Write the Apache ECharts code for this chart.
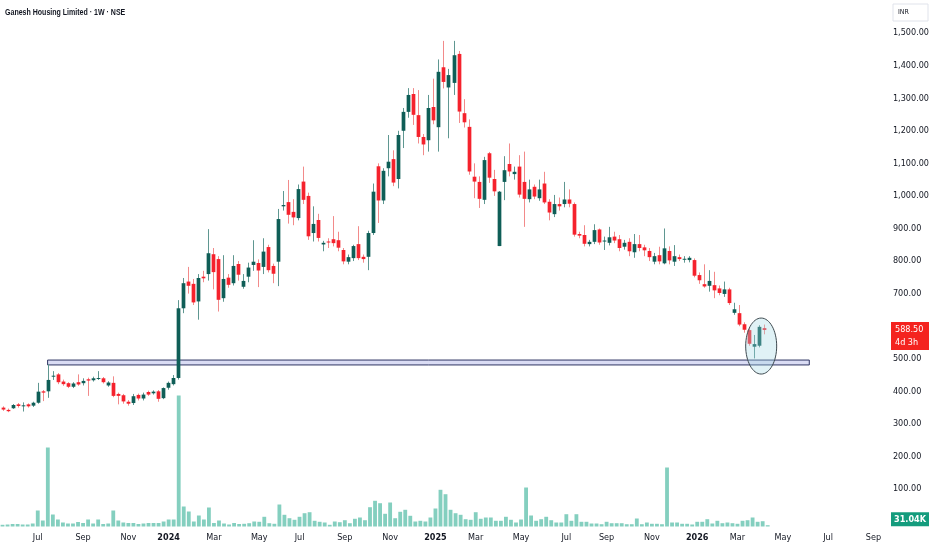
<!DOCTYPE html>
<html><head><meta charset="utf-8">
<script src="https://cdn.jsdelivr.net/npm/echarts/dist/echarts.min.js"></script>
<style>html,body{margin:0;padding:0;background:#fff}#c{width:932px;height:550px}</style>
</head><body><div id="c"></div><script>
const titleText = 'Ganesh Housing Limited · 1W · NSE';
const dates = ['2023-05-15','2023-05-22','2023-05-29','2023-06-05','2023-06-12','2023-06-19','2023-06-26','2023-07-03','2023-07-10','2023-07-17','2023-07-24','2023-07-31','2023-08-07','2023-08-14','2023-08-21','2023-08-28','2023-09-04','2023-09-11','2023-09-18','2023-09-25','2023-10-02','2023-10-09','2023-10-16','2023-10-23','2023-10-30','2023-11-06','2023-11-13','2023-11-20','2023-11-27','2023-12-04','2023-12-11','2023-12-18','2023-12-25',
'2024-01-01','2024-01-08','2024-01-15','2024-01-22','2024-01-29','2024-02-05','2024-02-12','2024-02-19','2024-02-26','2024-03-04','2024-03-11','2024-03-18','2024-03-25','2024-04-01','2024-04-08','2024-04-15','2024-04-22','2024-04-29','2024-05-06','2024-05-13','2024-05-20','2024-05-27','2024-06-03','2024-06-10','2024-06-17','2024-06-24','2024-07-01','2024-07-08','2024-07-15','2024-07-22','2024-07-29','2024-08-05','2024-08-12','2024-08-19','2024-08-26','2024-09-02','2024-09-09','2024-09-16','2024-09-23','2024-09-30','2024-10-07','2024-10-14','2024-10-21','2024-10-28','2024-11-04','2024-11-11','2024-11-18','2024-11-25','2024-12-02','2024-12-09','2024-12-16','2024-12-23','2024-12-30',
'2025-01-06','2025-01-13','2025-01-20','2025-01-27','2025-02-03','2025-02-10','2025-02-17','2025-02-24','2025-03-03','2025-03-10','2025-03-17','2025-03-24','2025-03-31','2025-04-07','2025-04-14','2025-04-21','2025-04-28','2025-05-05','2025-05-12','2025-05-19','2025-05-26','2025-06-02','2025-06-09','2025-06-16','2025-06-23','2025-06-30','2025-07-07','2025-07-14','2025-07-21','2025-07-28','2025-08-04','2025-08-11','2025-08-18','2025-08-25','2025-09-01','2025-09-08','2025-09-15','2025-09-22','2025-09-29','2025-10-06','2025-10-13','2025-10-20','2025-10-27','2025-11-03','2025-11-10','2025-11-17','2025-11-24','2025-12-01','2025-12-08','2025-12-15','2025-12-22','2025-12-29',
'2026-01-05','2026-01-12','2026-01-19','2026-01-26','2026-02-02','2026-02-09','2026-02-16','2026-02-23','2026-03-02','2026-03-09','2026-03-16','2026-03-23','2026-03-30','2026-04-06','2026-04-13'];
const futureWeeks = ['2026-04-20','2026-04-27','2026-05-04','2026-05-11','2026-05-18','2026-05-25','2026-06-01','2026-06-08','2026-06-15','2026-06-22','2026-06-29','2026-07-06','2026-07-13','2026-07-20','2026-07-27','2026-08-03','2026-08-10','2026-08-17','2026-08-24','2026-08-31','2026-09-07','2026-09-14','2026-09-21'];
const openP = [350,343,348,360,355,360,356,365,400,400,445,452,430,425,414,428,425,437,434,439,440,418,426,392,388,368,364,389,378,398,394,400,379,411,422,441,655,737,730,676,752,760,821,806,686,749,732,791,721,752,788,794,782,843,785,798,968,981,951,932,1044,1000,886,926,851,860,867,864,834,798,809,852,813,813,886,1091,986,1085,1113,1052,1200,1258,1313,1248,1181,1171,1273,1211,1395,1333,1347,1436,1254,1212,1059,1043,988,1131,1052,846,1043,1098,1067,1090,1043,990,1028,993,1038,982,944,975,975,989,975,883,880,852,859,897,861,856,875,867,844,859,827,852,842,831,798,818,793,831,798,812,805,803,803,757,729,724,726,716,699,713,641,640,606,588,537,540,594];
const highP = [354,347,361,364,366,363,368,426,404,484,462,456,436,428,428,452,440,442,445,462,444,431,446,396,392,373,392,393,396,402,403,404,412,430,450,680,748,782,745,760,770,898,840,815,818,760,818,800,760,795,864,805,870,850,792,960,1015,1049,990,1035,1090,1010,968,945,862,870,938,890,840,820,850,907,820,893,1038,1100,1085,1187,1140,1200,1270,1331,1331,1325,1190,1310,1360,1419,1476,1390,1476,1445,1297,1235,1100,1060,1120,1135,1080,1015,1122,1161,1090,1125,1136,1050,1035,1050,1074,990,1003,995,1043,1020,980,890,910,865,913,900,875,905,890,880,865,870,883,880,850,840,825,844,900,845,849,820,815,815,808,765,790,772,767,725,737,718,672,665,612,595,573,603,605];
const lowP = [340,336,346,350,338,350,352,362,370,380,435,422,417,410,410,417,418,386,430,435,424,414,382,360,362,356,358,372,372,386,390,368,376,405,418,436,640,700,665,620,735,740,713,645,675,718,725,740,715,735,770,720,760,765,732,723,955,915,910,925,975,865,860,860,830,840,845,830,790,790,800,803,795,772,880,917,975,1060,1030,1023,1147,1240,1218,1161,1125,1136,1220,1136,1330,1177,1310,1224,1210,1065,993,963,975,1040,1000,846,987,1060,1050,995,905,980,990,985,975,925,935,955,965,965,875,870,845,845,852,850,834,848,855,830,835,815,810,830,815,800,790,790,790,790,785,800,795,796,750,730,718,706,686,695,690,665,635,600,580,540,501,535,575];
const closeP = [344,339,358,355,357,354,365,399,396,435,448,428,422,414,424,421,432,433,440,441,428,427,386,386,369,362,385,378,390,390,399,377,410,426,441,655,732,724,673,748,747,824,766,681,745,727,785,758,739,780,798,771,829,772,761,929,972,942,934,1021,988,876,914,871,856,857,855,841,799,812,846,809,806,886,1013,986,1077,1105,1041,1187,1258,1310,1249,1181,1158,1270,1232,1381,1350,1371,1432,1259,1226,1075,1044,991,1110,1056,1014,1013,1079,1075,1074,1004,991,1020,998,1020,980,949,975,968,989,976,881,878,853,859,895,857,863,873,863,840,856,830,852,840,833,812,815,799,839,802,815,806,807,810,755,741,722,739,710,702,713,671,652,605,589,546,545,598,588.5];
const volumeK = [41,48,60,60,48,48,72,384,144,1896,288,168,96,72,72,108,84,168,72,168,60,72,384,144,96,84,84,60,72,84,84,84,120,168,168,3144,480,360,120,264,168,456,84,144,72,48,84,60,65,79,120,113,233,79,65,528,281,199,161,233,319,343,137,113,96,41,120,103,151,79,185,216,151,463,617,559,305,576,199,353,401,257,120,137,120,216,432,881,775,401,319,281,175,161,343,185,216,216,137,137,233,161,96,168,936,264,137,175,233,151,96,96,295,137,295,113,113,72,72,55,113,79,79,79,55,55,192,55,96,65,65,55,1416,96,96,65,65,48,113,113,175,72,137,79,96,79,65,137,151,216,113,127,31.04];
const priceTickLabels = [100,200,300,400,500,700,800,900,1000,1100,1200,1300,1400,1500];
const monthAbbr = ['Jan','Feb','Mar','Apr','May','Jun','Jul','Aug','Sep','Oct','Nov','Dec'];
const lastPriceText = '588.50';
const countdownText = '4d 3h';
const lastVolumeText = '31.04K';
const supportLow = 481, supportHigh = 496;
const supportFrom = '2023-07-17', supportTo = '2026-06-15';
const focusDate = '2026-04-06', focusPrice = 539;

const allDates = dates.concat(futureWeeks);
const UP = '#0f5e57', DN = '#f5222d', WICK_UP = '#5f9791', WICK_DN = '#f28a8a';
const FONT = "'DejaVu Sans Condensed','Liberation Sans Narrow','Liberation Sans',sans-serif";
const TXT = '#131722';

const candleData = dates.map((d, i) => [d, openP[i], closeP[i], lowP[i], highP[i]]);

function renderCandle(params, api) {
  const i = api.value(0);
  const o = api.value(1), c = api.value(2), l = api.value(3), h = api.value(4);
  const up = c >= o;
  const pO = api.coord([i, o]), pC = api.coord([i, c]);
  const pH = api.coord([i, h]), pL = api.coord([i, l]);
  const bw = api.size([1, 0])[0] * 0.74;
  const xl = Math.round(pO[0]) + 0.5;
  const top = Math.min(pO[1], pC[1]);
  const hgt = Math.max(Math.abs(pO[1] - pC[1]), 1);
  return {type: 'group', children: [
    {type: 'line', shape: {x1: xl, y1: pH[1], x2: xl, y2: pL[1]}, style: {stroke: up ? WICK_UP : WICK_DN, lineWidth: 1}},
    {type: 'rect', shape: {x: xl - bw / 2, y: top, width: bw, height: hgt}, style: {fill: up ? UP : DN}}
  ]};
}

const chart = echarts.init(document.getElementById('c'), null, {renderer: 'canvas'});
chart.setOption({
  animation: false,
  backgroundColor: '#ffffff',
  grid: [
    {left: 0, right: 46, top: 0.5, bottom: 28.4},
    {left: 0, right: 46, top: 326.5, bottom: 23.5}
  ],
  xAxis: [
    {type: 'category', gridIndex: 0, data: allDates, boundaryGap: true, axisLine: {show: false}, axisTick: {show: false}, axisLabel: {show: false}, splitLine: {show: false}},
    {type: 'category', gridIndex: 1, data: allDates, boundaryGap: true, axisLine: {show: false}, axisTick: {show: false}, splitLine: {show: false},
      axisLabel: {
        margin: 7, fontSize: 9, color: TXT, fontFamily: FONT, hideOverlap: false,
        interval: function (idx, v) { const m = +v.slice(5, 7), d = +v.slice(8, 10); return d <= 7 && m % 2 === 1; },
        formatter: function (v) { const m = +v.slice(5, 7); return m === 1 ? '{y|' + v.slice(0, 4) + '}' : monthAbbr[m - 1]; },
        rich: {y: {fontWeight: 'bold', fontSize: 9, color: TXT, fontFamily: FONT}}
      }}
  ],
  yAxis: [
    {type: 'value', gridIndex: 0, position: 'right', min: 0, max: 1600, interval: 100,
      axisLine: {show: false}, axisTick: {show: false}, splitLine: {show: false},
      axisLabel: {margin: 11, fontSize: 9, color: TXT, fontFamily: FONT,
        formatter: function (v) { return priceTickLabels.indexOf(v) >= 0 ? v.toLocaleString('en-US', {minimumFractionDigits: 2, maximumFractionDigits: 2}) : ''; }}},
    {type: 'value', gridIndex: 1, min: 0, max: 4800, show: false}
  ],
  series: [
    {type: 'line', xAxisIndex: 0, yAxisIndex: 0, data: [], silent: true, z: 1,
      markArea: {silent: true, itemStyle: {color: '#dadcf4', borderColor: '#2f3563', borderWidth: 1},
        data: [[{xAxis: supportFrom, yAxis: supportHigh}, {xAxis: supportTo, yAxis: supportLow}]]}},
    {type: 'custom', name: 'price', xAxisIndex: 0, yAxisIndex: 0, data: candleData, renderItem: renderCandle,
      encode: {x: 0, y: [1, 2, 3, 4]}, z: 3},
    {type: 'bar', name: 'volume', xAxisIndex: 1, yAxisIndex: 1, data: volumeK, barWidth: '76%',
      itemStyle: {color: '#84cfbf'}, z: 2}
  ]
});

const lastIdx = dates.length - 1;
const pPrice = chart.convertToPixel({xAxisIndex: 0, yAxisIndex: 0}, [lastIdx, closeP[lastIdx]]);
const pVol = chart.convertToPixel({xAxisIndex: 1, yAxisIndex: 1}, [lastIdx, volumeK[lastIdx]]);
const pFocus = chart.convertToPixel({xAxisIndex: 0, yAxisIndex: 0}, [dates.indexOf(focusDate), focusPrice]);
const axisX = 891;
chart.setOption({
  graphic: [
    {type: 'text', z: 60, x: 5, y: 12, scaleX: 0.74, style: {text: titleText, fill: TXT, fontSize: 9.5, fontWeight: 'bold', fontFamily: "'Liberation Sans',sans-serif", verticalAlign: 'middle'}},
    {type: 'ellipse', z: 50, shape: {cx: pFocus[0] + 2, cy: pFocus[1], rx: 15.5, ry: 28},
      style: {fill: 'rgba(160,214,228,0.32)', stroke: '#3e4a50', lineWidth: 1}},
    {type: 'group', z: 60, x: axisX, y: pPrice[1] - 8, children: [
      {type: 'rect', shape: {x: 0, y: 0, width: 38, height: 28}, style: {fill: '#f4231f'}},
      {type: 'text', x: 4, y: 7.5, style: {text: lastPriceText, fill: '#ffffff', fontSize: 9, fontFamily: FONT, verticalAlign: 'middle'}},
      {type: 'text', x: 4, y: 20.5, style: {text: countdownText, fill: '#ffffff', fontSize: 9, fontFamily: FONT, verticalAlign: 'middle'}}
    ]},
    {type: 'group', z: 60, x: axisX, y: pVol[1] - 13, children: [
      {type: 'rect', shape: {x: 0, y: 0, width: 38, height: 14}, style: {fill: '#149c7d'}},
      {type: 'text', x: 19, y: 7, style: {text: lastVolumeText, fill: '#ffffff', fontSize: 9, fontWeight: 'bold', fontFamily: FONT, align: 'center', verticalAlign: 'middle'}}
    ]},
    {type: 'group', z: 60, x: 893, y: 4, children: [
      {type: 'rect', shape: {x: 0, y: 0, width: 35, height: 17}, style: {fill: '#ffffff', stroke: '#e0e3eb', lineWidth: 1}},
      {type: 'text', x: 5, y: 8.5, style: {text: 'INR', fill: TXT, fontSize: 7, fontFamily: FONT, verticalAlign: 'middle'}}
    ]}
  ]
});
</script></body></html>
